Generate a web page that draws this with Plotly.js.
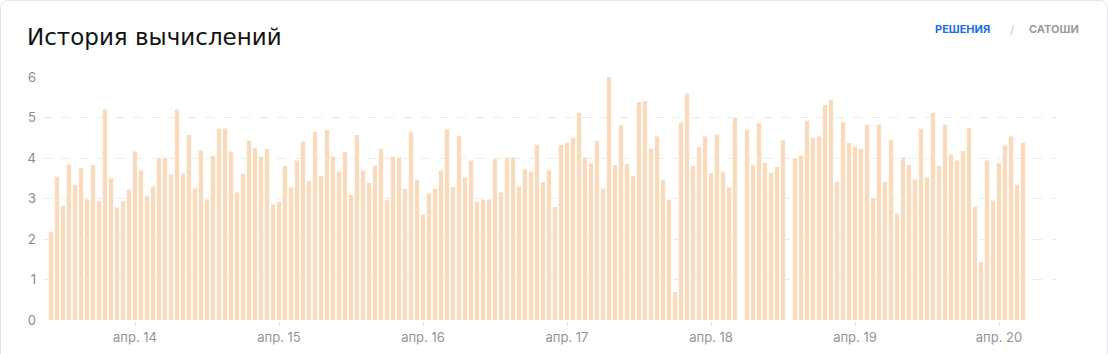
<!DOCTYPE html>
<html>
<head>
<meta charset="utf-8">
<script src="https://cdn.plot.ly/plotly-3.0.1.min.js"></script>
<style>
  html, body { margin: 0; padding: 0; background: #ffffff; }
  #wrap { position: relative; width: 1108px; height: 354px; overflow: hidden; }
  #chart { width: 1108px; height: 354px; }
  #card { position: absolute; left: 0; top: 0; width: 1106px; height: 380px; border: 1px solid #e3e2f2; border-radius: 8px; pointer-events: none; }
</style>
</head>
<body>
<div id="wrap">
  <div id="chart"></div>
  <div id="card"></div>
</div>
<script>
// Hourly values, first bar at START, one bar per hour
const START = '2024-04-13T10:00:00';
const values = [
  2.18, 3.54, 2.82, 3.84, 3.34, 3.75, 2.98, 3.83, 2.94, 5.20,
  3.50, 2.78, 2.93, 3.22, 4.16, 3.69, 3.07, 3.29, 4.00, 4.01,
  3.59, 5.20, 3.62, 4.57, 3.25, 4.19, 2.97, 4.05, 4.72, 4.73,
  4.16, 3.15, 3.61, 4.43, 4.25, 4.03, 4.22, 2.85, 2.92, 3.81,
  3.27, 3.94, 4.40, 3.43, 4.64, 3.56, 4.69, 4.03, 3.66, 4.15,
  3.09, 4.57, 3.69, 3.38, 3.81, 4.22, 2.97, 4.03, 4.01, 3.24,
  4.65, 3.46, 2.61, 3.12, 3.24, 3.69, 4.71, 3.28, 4.55, 3.51,
  3.94, 2.92, 2.97, 2.98, 3.97, 3.15, 4.01, 4.01, 3.30, 3.72,
  3.66, 4.33, 3.41, 3.69, 2.79, 4.32, 4.38, 4.50, 5.12, 4.01,
  3.87, 4.42, 3.25, 6.00, 3.83, 4.81, 3.85, 3.55, 5.38, 5.41,
  4.23, 4.53, 3.45, 2.97, 0.69, 4.87, 5.59, 3.81, 4.27, 4.53,
  3.63, 4.58, 3.66, 3.27, 4.99, 0, 4.70, 3.82, 4.86, 3.88,
  3.63, 3.78, 4.44, 0, 4.00, 4.06, 4.92, 4.50, 4.53, 5.31,
  5.44, 3.41, 4.89, 4.37, 4.29, 4.22, 4.82, 3.00, 4.82, 3.41,
  4.45, 2.63, 4.01, 3.83, 3.47, 4.72, 3.52, 5.11, 3.80, 4.82,
  4.08, 3.94, 4.17, 4.75, 2.80, 1.43, 3.94, 2.95, 3.87, 4.31,
  4.53, 3.34, 4.38
];
const tickDates = ['2024-04-14', '2024-04-15', '2024-04-16', '2024-04-17', '2024-04-18', '2024-04-19', '2024-04-20'];
const tickLabels = ['апр. 14', 'апр. 15', 'апр. 16', 'апр. 17', 'апр. 18', 'апр. 19', 'апр. 20'];
const titleText = 'История вычислений';
const toggleLabels = ['РЕШЕНИЯ', '/', 'САТОШИ'];

function pad(n) { return (n < 10 ? '0' : '') + n; }
const t0 = new Date(START + 'Z').getTime();
const times = values.map((v, i) => {
  const d = new Date(t0 + i * 3600000);
  return d.getUTCFullYear() + '-' + pad(d.getUTCMonth() + 1) + '-' + pad(d.getUTCDate()) + ' ' + pad(d.getUTCHours()) + ':00';
});

const trace = {
  type: 'bar',
  x: times,
  y: values,
  marker: { color: '#f9dbbc', line: { width: 0 } },
  hoverinfo: 'x+y'
};

const layout = {
  width: 1108,
  height: 354,
  margin: { l: 43, r: 51, t: 77, b: 34, pad: 0 },
  paper_bgcolor: '#ffffff',
  plot_bgcolor: '#ffffff',
  bargap: 0.28,
  showlegend: false,
  font: { family: 'Inter, "Open Sans", sans-serif' },
  title: {
    text: titleText,
    xref: 'container', yref: 'container',
    x: 27 / 1108, xanchor: 'left',
    y: 1 - 37 / 354, yanchor: 'middle',
    font: { family: '"DejaVu Sans", sans-serif', size: 23, color: '#121212' }
  },
  xaxis: {
    type: 'date',
    range: ['2024-04-13 08:40', '2024-04-20 09:40'],
    tickmode: 'array',
    tickvals: tickDates,
    ticktext: tickLabels,
    ticks: 'outside',
    ticklen: 5,
    tickwidth: 1,
    tickcolor: '#e2e2e2',
    showgrid: false,
    zeroline: false,
    showline: false,
    fixedrange: true,
    tickfont: { size: 13, color: '#8c96a1', family: 'Inter, "Open Sans", sans-serif' }
  },
  yaxis: {
    range: [0, 6],
    dtick: 1,
    tick0: 0,
    showgrid: true,
    gridcolor: '#ebebeb',
    griddash: 'dash',
    gridwidth: 1,
    zeroline: false,
    showline: false,
    ticks: '',
    ticklabelstandoff: 6,
    fixedrange: true,
    tickfont: { size: 13, color: '#8a8a8a', family: 'Inter, "Open Sans", sans-serif' }
  },
  annotations: [
    { text: toggleLabels[0], xref: 'paper', yref: 'paper', x: (962.5 - 43) / 1014, y: (320 - 29) / 243,
      xanchor: 'center', yanchor: 'middle', showarrow: false,
      font: { size: 11, color: '#1a6fe3', weight: 700, family: 'Inter, "Open Sans", sans-serif' } },
    { text: toggleLabels[1], xref: 'paper', yref: 'paper', x: (1012 - 43) / 1014, y: (320 - 29) / 243,
      xanchor: 'center', yanchor: 'middle', showarrow: false,
      font: { size: 12, color: '#c8c8c8', family: 'Inter, "Open Sans", sans-serif' } },
    { text: toggleLabels[2], xref: 'paper', yref: 'paper', x: (1054 - 43) / 1014, y: (320 - 29) / 243,
      xanchor: 'center', yanchor: 'middle', showarrow: false,
      font: { size: 11, color: '#9a9a9a', weight: 700, family: 'Inter, "Open Sans", sans-serif' } }
  ]
};

Plotly.newPlot('chart', [trace], layout, { displayModeBar: false, staticPlot: false });
</script>
</body>
</html>
